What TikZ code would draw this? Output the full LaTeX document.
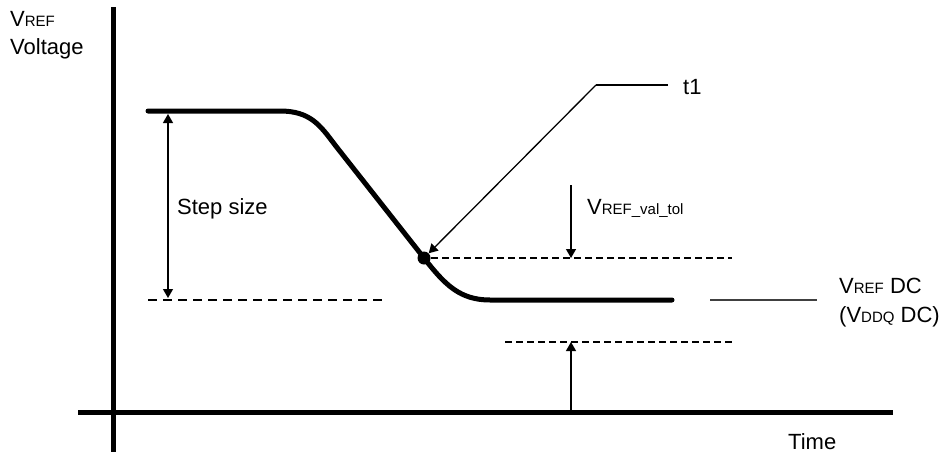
\documentclass[tikz,border=0pt]{standalone}
\usepackage{fontspec}
\setmainfont{Liberation Sans}
\usetikzlibrary{arrows.meta}
\newcommand{\lbl}{\fontsize{22}{26}\selectfont}
\newcommand{\smc}[1]{{\fontsize{15}{18}\selectfont #1}}
\tikzset{
  axis/.style={line width=5pt},
  wave/.style={line width=5pt,line cap=round,line join=round},
  tol/.style={line width=2.2pt,dash pattern=on 7pt off 4pt},
  dim/.style={line width=1.3pt,-{Triangle[length=9pt,width=10pt]}},
  txt/.style={font=\lbl,inner sep=0pt,anchor=base west}
}
\begin{document}
\begin{tikzpicture}[x=1pt,y=-1pt]
\useasboundingbox (0,0) rectangle (949,455);
% axes
\coordinate (ytop) at (113,7);
\coordinate (ybot) at (113,452);
\coordinate (xl) at (78,412);
\coordinate (xr) at (893,412);
\draw[axis] (ytop) -- (ybot);
\draw[axis] (xl) -- (xr);
\node[txt] (vref) at (10,26) {V\smc{REF}};
\node[txt] (volt) at (10,54) {Voltage};
\node[txt] (time) at (788,449) {Time};
% step response
\node[circle,fill,inner sep=0pt,minimum size=13pt] (t1pt) at (424,258) {};
\coordinate (hi) at (148,111);
\coordinate (lo) at (672,300);
\draw[wave] (hi) -- (280,111) .. controls (310,111) and (320,125) .. (335,145)
  -- (t1pt.center) .. controls (445,285) and (460,300) .. (490,300) -- (lo);
% step size
\coordinate (old1) at (148,300);
\coordinate (old2) at (385,300);
\draw[tol,dash pattern=on 9pt off 6pt] (old1) -- (old2);
\coordinate (ss1) at (168,114);
\coordinate (ss2) at (168,298);
\draw[dim,{Triangle[length=9pt,width=10pt]}-{Triangle[length=9pt,width=10pt]}] (ss1) -- (ss2);
\node[txt] (step) at (177,214) {Step size};
% t1 leader
\node[txt] (t1) at (683,94) {t1};
\coordinate (t1end) at (668,85);
\coordinate (t1bend) at (596,85);
\draw[line width=1.3pt] (t1end) -- (t1bend);
\draw[dim] (t1bend) -- (t1pt);
% tolerance band
\coordinate (up1) at (431,258);
\coordinate (up2) at (732,258);
\coordinate (dn1) at (505,342);
\coordinate (dn2) at (732,342);
\draw[tol] (up1) -- (up2);
\draw[tol] (dn1) -- (dn2);
\coordinate (ta) at (571,185);
\coordinate (tb) at (571,258);
\coordinate (tc) at (571,410);
\coordinate (td) at (571,342);
\draw[dim] (ta) -- (tb);
\draw[dim] (tc) -- (td);
\node[txt] (tol) at (587,214) {V\smc{REF\_val\_tol}};
% dc level
\coordinate (dc1) at (710,300);
\coordinate (dc2) at (817,300);
\draw[line width=1.5pt,black!75] (dc1) -- (dc2);
\node[txt] (dc) at (839,293) {V\smc{REF} DC};
\node[txt] (ddq) at (839,322) {(V\smc{DDQ} DC)};
\end{tikzpicture}
\end{document}
